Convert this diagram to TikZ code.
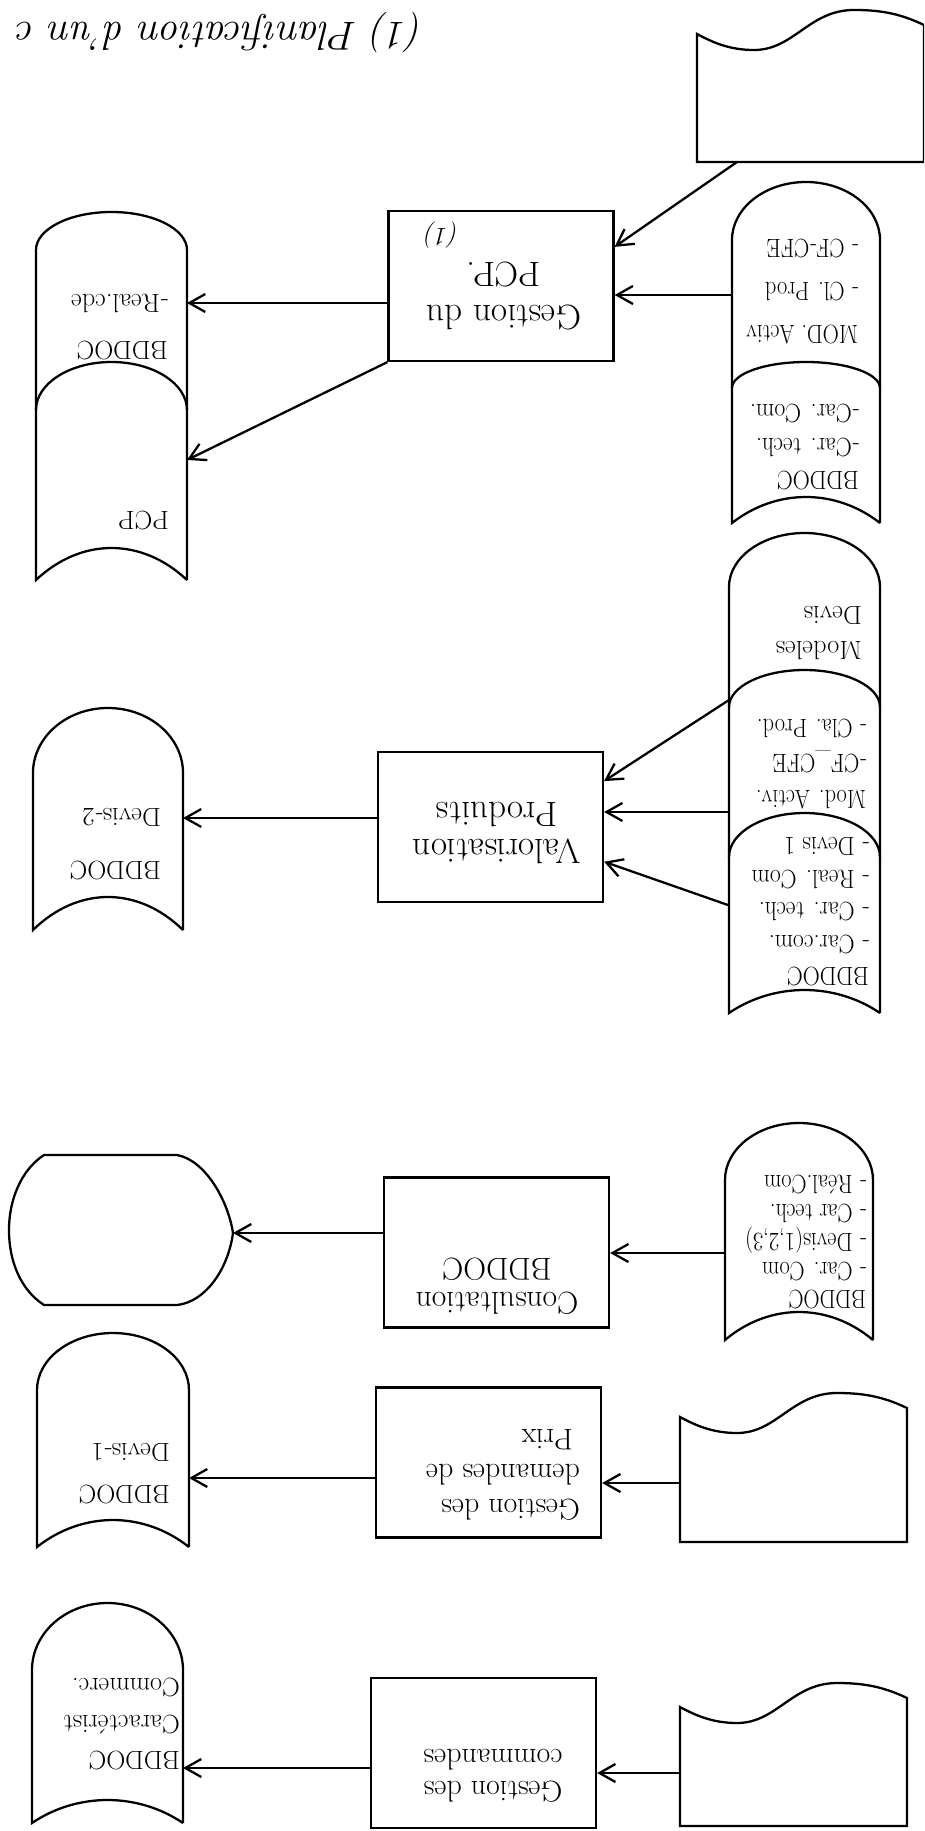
\documentclass[tikz,border=0pt]{standalone}
\usepackage{tikz}
\usetikzlibrary{arrows.meta,positioning}

\begin{document}
\begin{tikzpicture}[x=0.02cm,y=0.02cm,rotate=180,transform shape,line width=1.3pt,
        proc/.style={draw,rectangle,minimum width=4.5cm,minimum height=3cm},
        proctext/.style={align=center,inner sep=0pt,font=\fontsize{20}{#1}\selectfont},
        proctext/.default=22,
        procnum/.style={inner sep=0pt,font=\fontsize{15}{18}\itshape},
        store/.style={align=left,anchor=west,inner sep=0pt,
          font=\fontsize{15}{#1}\selectfont},
        store/.default=20,
        title/.style={anchor=west,inner sep=0pt,font=\fontsize{23}{26}\itshape},
        flow/.style={-{Straight Barb[length=3.2mm,width=3.6mm]}}]
        \clip (0,0) rectangle (924,1831);
        \def\docshape#1#2#3{%
          \draw (#1,{#2+15}) .. controls ({#1+25},{#2+3}) and ({#1+45},#2) .. ({#1+70},#2)
            .. controls ({#1+115},#2) and ({#1+130},{#2+40}) .. ({#1+170},{#2+40})
            .. controls ({#1+195},{#2+40}) and ({#1+212},{#2+32}) .. ({#1+227},{#2+24})
            -- ({#1+227},#3) -- (#1,#3) -- cycle;}
        \def\storeshape#1#2#3#4#5#6{%
          \draw (#1,#5) -- (#1,#4)
            arc[start angle=180,end angle=360,x radius={(#2-#1)/2},y radius={#4-#3}]
            -- (#2,#5) .. controls ({#2-0.3*(#2-#1)},{(4*#6-#5)/3})
            and ({#1+0.3*(#2-#1)},{(4*#6-#5)/3}) .. (#1,#5);}
        \def\innerdome#1#2#3#4{%
          \draw (#1,#4) arc[start angle=180,end angle=360,x radius={(#2-#1)/2},y radius={#4-#3}];}

        \node[title] (title) at (499,33) {(1) Planification d'un c};

        % row 1
        \docshape{0}{10}{162}
        \storeshape{44}{192}{182}{240}{523}{497}
        \innerdome{44}{192}{362}{388}
        \storeshape{737}{888}{212}{250}{580}{548}
        \innerdome{737}{888}{362}{410}
        \node[proc] (pcp) at (423,286) {};
        \node[proctext=25] (pcp-t) at (420,296) {Gestion du\\PCP.};
        \node[procnum] (pcp-n) at (482,235) {(1)};
        \node[store=24.5,xscale=0.85] (mod-a) at (65,292) {MOD. Activ\\- Cl. Prod\\- CF-CFE};
        \node[store=19,xscale=0.9] (bd-a) at (64,447) {BDDOC\\-Car. tech.\\-Car. Com.};
        \node[store=26.7] (bd-b) at (755,327) {BDDOC\\-Real.cde};
        \node[store] (pcp-st) at (754,520) {PCP};
        \coordinate (d1-out) at (187,162);
        \coordinate (s1-out) at (192,295);
        \coordinate (s2-in) at (737,303);
        \coordinate (s2-in2) at (737,460);
        \draw[flow] (d1-out) -- (pcp.199);
        \draw[flow] (s1-out) -- (s1-out -| pcp.west);
        \draw[flow] (pcp.east |- s2-in) -- (s2-in);
        \draw[flow] (pcp.north east) -- (s2-in2);

        % row 2
        \storeshape{44}{195}{533}{587}{1013}{990}
        \innerdome{44}{195}{670}{707}
        \innerdome{44}{195}{813}{857}
        \storeshape{741}{891}{708}{773}{930}{897}
        \node[proc] (valor) at (433.5,827) {};
        \node[proctext=21] (valor-t) at (427,833) {Valorisation\\Produits};
        \node[store=20] (mod-dv) at (61,633) {Modeles\\Devis};
        \node[store=20,xscale=0.85] (mod-b) at (57,764) {Mod. Activ.\\-CF\_CFE\\- Cla. Prod.};
        \node[store=18.5,xscale=0.9] (bd-c) at (54,912) {BDDOC\\- Car.com.\\- Car. tech.\\- Real. Com\\- Devis 1};
        \node[store=30] (dv2) at (762,844) {BDDOC\\Devis-2};
        \coordinate (s3-out1) at (195,700);
        \coordinate (s3-out2) at (195,812);
        \coordinate (s3-out3) at (196,905);
        \coordinate (s4-in) at (741,818);
        \draw[flow] (s3-out1) -- (valor.202);
        \draw[flow] (s3-out2) -- (s3-out2 -| valor.west);
        \draw[flow] (s3-out3) -- (valor.163);
        \draw[flow] (valor.east |- s4-in) -- (s4-in);

        % row 3
        \storeshape{51}{199}{1123}{1180}{1340}{1312}
        \draw (747,1155) -- (880,1155) .. controls (903,1170) and (915,1200) .. (915,1230)
          .. controls (915,1262) and (903,1290) .. (880,1305) -- (747,1305)
          .. controls (719,1302) and (696,1270) .. (691,1233)
          .. controls (696,1200) and (719,1160) .. (747,1155) -- cycle;
        \node[proc] (consult) at (427.5,1252.5) {};
        \node[proctext,font=\fontsize{18}{19.5}\selectfont] (consult-t) at (427,1286) {Consultation\\BDDOC};
        \node[store=16.5,xscale=0.85] (bd-d) at (57,1242) {BDDOC\\- Car. Com\\- Devis(1,2,3)\\- Car tech.\\- Réal.Com};
        \coordinate (s5-out) at (199,1253);
        \coordinate (disp-in) at (691,1233);
        \draw[flow] (s5-out) -- (s5-out -| consult.west);
        \draw[flow] (consult.east |- disp-in) -- (disp-in);

        % row 4
        \docshape{17}{1393}{1542}
        \storeshape{735}{887}{1333}{1390}{1547}{1520}
        \node[proc] (dem) at (435.5,1462.5) {};
        \node[proctext,align=left,anchor=west,font=\fontsize{17}{20}\selectfont] (dem-t)
          at (343,1475) {Gestion des\\demandes de\\\hspace{4pt}Prix};
        \node[store=24] (dv1) at (753,1474) {BDDOC\\Devis-1};
        \coordinate (d2-out) at (244,1483);
        \coordinate (s6-in) at (735,1478);
        \draw[flow] (d2-out) -- (d2-out -| dem.west);
        \draw[flow] (dem.east |- s6-in) -- (s6-in);

        % row 5
        \docshape{17}{1683}{1826}
        \storeshape{741}{892}{1603}{1670}{1823}{1800}
        \node[proc] (cmd) at (440.5,1753) {};
        \node[proctext,font=\fontsize{17}{18.5}\selectfont] (cmd-t) at (431,1776) {Gestion des\\commandes};
        \node[store=21] (car) at (743,1724) {BDDOC\\Caractérist\\Commerc.};
        \coordinate (d3-out) at (244,1773);
        \coordinate (s7-in) at (741,1768);
        \draw[flow] (d3-out) -- (d3-out -| cmd.west);
        \draw[flow] (cmd.east |- s7-in) -- (s7-in);
      \end{tikzpicture}
\end{document}
